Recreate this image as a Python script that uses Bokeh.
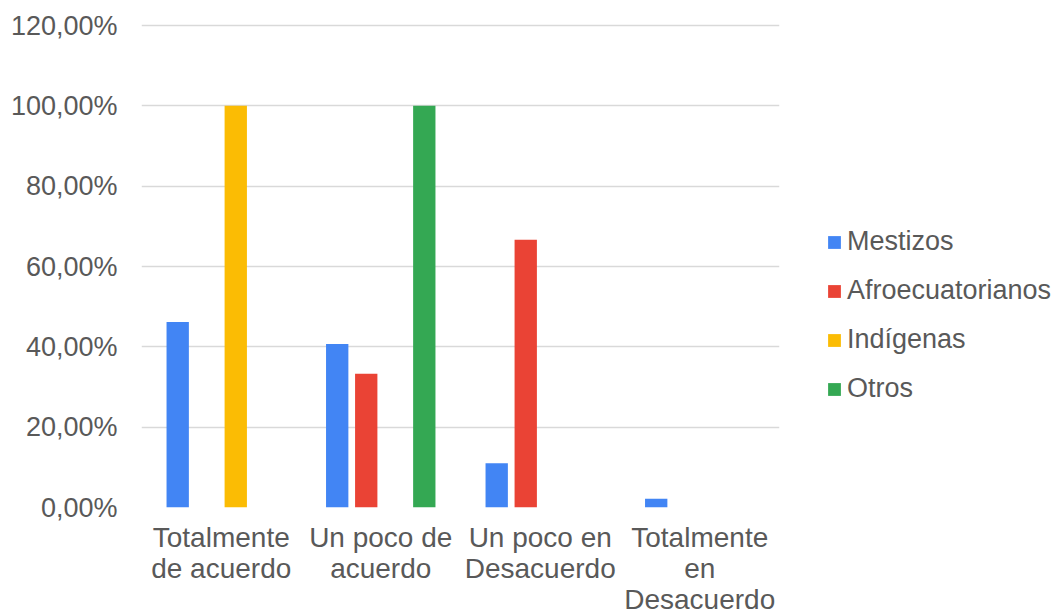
from bokeh.plotting import figure
from bokeh.models import (ColumnDataSource, FactorRange, Range1d, FixedTicker,
                          Legend, LegendItem)
from bokeh.transform import dodge
from bokeh.embed import file_html
from bokeh.resources import INLINE

categories = ["Totalmente\nde acuerdo", "Un poco de\nacuerdo",
              "Un poco en\nDesacuerdo", "Totalmente\nen\nDesacuerdo"]
series = ["Mestizos", "Afroecuatorianos", "Indígenas", "Otros"]
mestizos = [46.2, 40.7, 11.0, 2.2]
afroecuatorianos = [0.0, 33.33, 66.67, 0.0]
indigenas = [100.0, 0.0, 0.0, 0.0]
otros = [0.0, 100.0, 0.0, 0.0]
y_ticks = [0, 20, 40, 60, 80, 100, 120]
y_tick_labels = ["0,00%", "20,00%", "40,00%", "60,00%", "80,00%", "100,00%", "120,00%"]

colors = ["#4285F4", "#EA4335", "#FBBC04", "#34A853"]
FONT = "Liberation Sans"
TXT = "#595959"

source = ColumnDataSource(dict(cat=categories, Mestizos=mestizos,
                               Afroecuatorianos=afroecuatorianos,
                               Indígenas=indigenas, Otros=otros))

p = figure(x_range=FactorRange(*categories, range_padding=0),
           y_range=Range1d(0, 121),
           frame_width=638, frame_height=486,
           output_backend="svg", toolbar_location=None,
           min_border_left=141, min_border_right=0, min_border_top=21,
           min_border_bottom=0)
p.outline_line_color = None

offsets = [-0.273, -0.091, 0.091, 0.273]
renderers = []
for s, c, off in zip(series, colors, offsets):
    r = p.vbar(x=dodge("cat", off, range=p.x_range), top=s, width=0.14,
               source=source, fill_color=c, line_color=None)
    renderers.append(r)

p.xgrid.grid_line_color = None
p.ygrid.grid_line_color = "#d9d9d9"
p.ygrid.grid_line_width = 1.5
p.yaxis.ticker = FixedTicker(ticks=y_ticks)
p.yaxis.major_label_overrides = {t: l for t, l in zip(y_ticks, y_tick_labels)}
for ax in (p.xaxis[0], p.yaxis[0]):
    ax.axis_line_color = None
    ax.major_tick_line_color = None
    ax.minor_tick_line_color = None
    ax.major_tick_out = 0
    ax.major_tick_in = 0
    ax.major_label_text_font = FONT
    ax.major_label_text_font_size = "27px"
    ax.major_label_text_color = TXT
p.yaxis.major_label_standoff = 24
p.xaxis.major_label_text_font_size = "28px"
p.xaxis.major_label_standoff = 14
p.xaxis.major_label_text_line_height = 1.0

legend = Legend(items=[LegendItem(label=s, renderers=[r]) for s, r in zip(series, renderers)],
                location=(47, 103), orientation="vertical",
                glyph_width=16, glyph_height=16, label_standoff=5,
                label_text_font=FONT, label_text_font_size="27px",
                label_text_color=TXT, label_height=30, spacing=18,
                padding=0, margin=0, border_line_color=None,
                background_fill_alpha=0)
p.add_layout(legend, "right")

open("out.html", "w").write(file_html(p, INLINE))
